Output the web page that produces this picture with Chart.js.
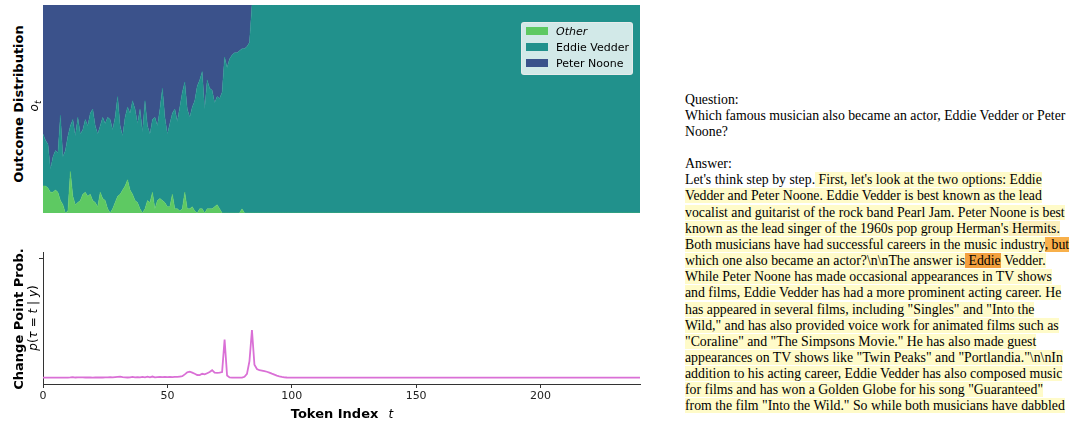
<!DOCTYPE html>
<html>
<head>
<meta charset="utf-8">
<script src="https://cdn.jsdelivr.net/npm/chart.js@4.4.1/dist/chart.umd.min.js"></script>
<style>
  body { margin: 0; width: 1071px; height: 422px; overflow: hidden; position: relative; background: #fff; font-family: "DejaVu Sans", sans-serif; color: #000; }
  canvas { position: absolute; }
  #outcomeChart { left: 43px; top: 5px; }
  #changeChart { left: 0px; top: 240px; }
  .vlabel { position: absolute; white-space: nowrap; transform: translate(-50%, -50%) rotate(-90deg); }
  .bold { font-weight: bold; font-size: 13px; }
  .math { font-size: 12px; }
  #legend { position: absolute; left: 521px; top: 22px; width: 110px; height: 51px; background: rgba(255,255,255,0.8); border: 1px solid rgba(235,235,235,0.9); border-radius: 3px; font-size: 11px; }
  #legend .row { position: absolute; left: 4px; height: 16px; line-height: 16px; white-space: nowrap; }
  #legend .sw { display: inline-block; width: 22px; height: 8px; vertical-align: middle; margin-right: 8px; margin-top: -2px; }
  #xtitle { position: absolute; left: 342px; top: 412px; transform: translate(-50%, -50%); white-space: nowrap; }
  #answer { position: absolute; left: 685px; top: 91.5px; font-family: "Liberation Serif", serif; font-size: 13.8px; line-height: 16.15px; white-space: nowrap; }
  .hl { background: #fffbc9; }
  .hl2 { background: #fdf0bd; }
  .or1 { background: #f8b04a; }
  .or2 { background: #f3a03e; }
</style>
</head>
<body>
<canvas id="outcomeChart" width="597" height="208"></canvas>
<canvas id="changeChart" width="660" height="182"></canvas>

<div class="vlabel bold" style="left:18px; top:104px;">Outcome Distribution</div>
<div class="vlabel math" style="left:35px; top:106px;"><i>o</i><sub style="font-size:9px"><i>t</i></sub></div>
<div class="vlabel bold" style="left:18px; top:319px;">Change Point Prob.</div>
<div class="vlabel math" style="left:33px; top:318px;"><i>p</i>(<i>τ</i> = <i>t</i> | <i>y</i>)</div>
<div id="xtitle"><span class="bold">Token Index</span>&nbsp;&nbsp;<span class="math"><i>t</i></span></div>

<div id="legend">
  <div class="row" style="top:1px"><span class="sw" style="background:#5ec962"></span><i>Other</i></div>
  <div class="row" style="top:17px"><span class="sw" style="background:#21918c"></span>Eddie Vedder</div>
  <div class="row" style="top:33px"><span class="sw" style="background:#3b528b"></span>Peter Noone</div>
</div>

<div id="answer">
Question:<br>
Which famous musician also became an actor, Eddie Vedder or Peter<br>
Noone?<br>
<br>
Answer:<br>
Let's think step by step.<span class="hl"> First, let's look at the two options: Eddie</span><br>
<span class="hl">Vedder and Peter Noone. Eddie Vedder is best known as the lead</span><br>
<span class="hl">vocalist and guitarist of the rock band Pearl Jam. Peter Noone is best</span><br>
<span class="hl">known as the lead singer of the 1960s pop group Herman's</span><span class="hl2"> Hermits.</span><br>
<span class="hl">Both musicians have had successful careers in the music industry</span><span class="or1">, but</span><br>
<span class="hl">which one also became an actor?\n\nThe answer is</span><span class="or2"> Eddie</span><span class="hl"> Vedder.</span><br>
<span class="hl">While Peter Noone has made occasional appearances in TV shows</span><br>
<span class="hl">and films, Eddie Vedder has had a more prominent acting career. He</span><br>
<span class="hl">has appeared in several films, including "Singles" and "Into the</span><br>
<span class="hl">Wild," and has also provided voice work for animated films such as</span><br>
<span class="hl">"Coraline" and "The Simpsons Movie." He has also made guest</span><br>
<span class="hl">appearances on TV shows like "Twin Peaks" and "Portlandia."\n\nIn</span><br>
<span class="hl">addition to his acting career, Eddie Vedder has also composed music</span><br>
<span class="hl">for films and has won a Golden Globe for his song "Guaranteed"</span><br>
<span class="hl">from the film "Into the Wild." So while both musicians have dabbled</span>
</div>

<script>
// outcome distribution o_t per token (t = 0..240)
var otherProb = [
  0.13,0.13,0.12,0.10,0.10,0.11,0.10,0.06,0.04,0.00,
  0.01,0.20,0.08,0.04,0.05,0.06,0.09,0.10,0.08,0.09,
  0.06,0.05,0.03,0.10,0.07,0.06,0.02,0.00,0.02,0.05,
  0.08,0.09,0.11,0.13,0.16,0.11,0.09,0.06,0.05,0.02,
  0.00,0.02,0.06,0.05,0.10,0.02,0.06,0.07,0.06,0.05,
  0.03,0.03,0.09,0.02,0.02,0.01,0.02,0.10,0.02,0.02,
  0.03,0.01,0.00,0.02,0.02,0.00,0.02,0.02,0.02,0.03,
  0.04,0.02,0.00,0.00,0.00,0.00,0.00,0.00,0.00,0.00,
  0.02,0.00,0.00,0.00,0.00,
  0,0,0,0,0,0,0,0,0,0,0,0,0,0,0,0,0,0,0,0,0,0,0,0,0,0,
  0,0,0,0,0,0,0,0,0,0,0,0,0,0,0,0,0,0,0,0,0,0,0,0,0,0,
  0,0,0,0,0,0,0,0,0,0,0,0,0,0,0,0,0,0,0,0,0,0,0,0,0,0,
  0,0,0,0,0,0,0,0,0,0,0,0,0,0,0,0,0,0,0,0,0,0,0,0,0,0,
  0,0,0,0,0,0,0,0,0,0,0,0,0,0,0,0,0,0,0,0,0,0,0,0,0,0,
  0,0,0,0,0,0,0,0,0,0,0,0,0,0,0,0,0,0,0,0,0,0,0,0,0,0
];
var eddieProb = [
  0.25,0.22,0.21,0.11,0.17,0.19,0.19,0.41,0.23,0.30,
  0.36,0.22,0.37,0.33,0.41,0.32,0.31,0.35,0.34,0.39,
  0.44,0.37,0.35,0.32,0.39,0.37,0.44,0.45,0.38,0.41,
  0.48,0.33,0.26,0.33,0.35,0.37,0.45,0.44,0.38,0.48,
  0.39,0.52,0.36,0.33,0.35,0.44,0.36,0.43,0.54,0.41,
  0.35,0.40,0.39,0.48,0.42,0.50,0.56,0.53,0.48,0.44,
  0.48,0.53,0.61,0.62,0.66,0.50,0.62,0.58,0.57,0.50,
  0.52,0.53,0.58,0.75,0.70,0.74,0.76,0.77,0.77,0.78,
  0.77,0.79,0.80,0.82,1.00,
  1,1,1,1,1,1,1,1,1,1,1,1,1,1,1,1,1,1,1,1,1,1,1,1,1,1,
  1,1,1,1,1,1,1,1,1,1,1,1,1,1,1,1,1,1,1,1,1,1,1,1,1,1,
  1,1,1,1,1,1,1,1,1,1,1,1,1,1,1,1,1,1,1,1,1,1,1,1,1,1,
  1,1,1,1,1,1,1,1,1,1,1,1,1,1,1,1,1,1,1,1,1,1,1,1,1,1,
  1,1,1,1,1,1,1,1,1,1,1,1,1,1,1,1,1,1,1,1,1,1,1,1,1,1,
  1,1,1,1,1,1,1,1,1,1,1,1,1,1,1,1,1,1,1,1,1,1,1,1,1,1
];
var peterProb = [
  0.62,0.65,0.67,0.79,0.73,0.70,0.71,0.53,0.73,0.70,
  0.63,0.58,0.55,0.63,0.54,0.62,0.60,0.55,0.58,0.52,
  0.50,0.58,0.62,0.58,0.54,0.57,0.54,0.55,0.60,0.54,
  0.44,0.58,0.63,0.54,0.49,0.52,0.46,0.50,0.57,0.50,
  0.61,0.46,0.58,0.62,0.55,0.54,0.58,0.50,0.40,0.54,
  0.62,0.57,0.52,0.50,0.56,0.49,0.42,0.37,0.50,0.54,
  0.49,0.46,0.39,0.36,0.32,0.50,0.36,0.40,0.41,0.47,
  0.44,0.45,0.42,0.25,0.30,0.26,0.24,0.23,0.23,0.22,
  0.21,0.21,0.20,0.18,0.00,
  0,0,0,0,0,0,0,0,0,0,0,0,0,0,0,0,0,0,0,0,0,0,0,0,0,0,
  0,0,0,0,0,0,0,0,0,0,0,0,0,0,0,0,0,0,0,0,0,0,0,0,0,0,
  0,0,0,0,0,0,0,0,0,0,0,0,0,0,0,0,0,0,0,0,0,0,0,0,0,0,
  0,0,0,0,0,0,0,0,0,0,0,0,0,0,0,0,0,0,0,0,0,0,0,0,0,0,
  0,0,0,0,0,0,0,0,0,0,0,0,0,0,0,0,0,0,0,0,0,0,0,0,0,0,
  0,0,0,0,0,0,0,0,0,0,0,0,0,0,0,0,0,0,0,0,0,0,0,0,0,0
];

// change point probability p(tau = t | y)
var changeProb = [
  0.003,0.003,0.003,0.003,0.003,0.003,0.003,0.003,0.003,0.003,
  0.003,0.005,0.008,0.004,0.005,0.006,0.005,0.004,0.005,0.004,
  0.003,0.004,0.005,0.004,0.004,0.005,0.006,0.007,0.006,0.008,
  0.010,0.012,0.007,0.005,0.004,0.005,0.010,0.006,0.008,0.006,
  0.009,0.006,0.011,0.005,0.012,0.006,0.008,0.009,0.007,0.010,
  0.008,0.010,0.008,0.010,0.009,0.012,0.015,0.030,0.048,0.052,
  0.045,0.035,0.025,0.024,0.035,0.030,0.040,0.050,0.065,0.045,
  0.042,0.045,0.050,0.320,0.020,0.005,0.003,0.003,0.003,0.003,
  0.003,0.010,0.035,0.140,0.400,0.110,0.075,0.065,0.062,0.058,
  0.052,0.045,0.036,0.028,0.020,0.014,0.009,0.006,0.004,0.003,
  0.003,0.003,0.003,0.003,0.003,0.003,0.003,0.003,0.003,0.003,0.003,0.003,0.003,0.003,0.003,0.003,0.003,0.003,0.003,0.003,
  0.003,0.003,0.003,0.003,0.003,0.003,0.003,0.003,0.003,0.003,0.003,0.003,0.003,0.003,0.003,0.003,0.003,0.003,0.003,0.003,
  0.003,0.003,0.003,0.003,0.003,0.003,0.003,0.003,0.003,0.003,0.003,0.003,0.003,0.003,0.003,0.003,0.003,0.003,0.003,0.003,
  0.003,0.003,0.003,0.003,0.003,0.003,0.003,0.003,0.003,0.003,0.003,0.003,0.003,0.003,0.003,0.003,0.003,0.003,0.003,0.003,
  0.003,0.003,0.003,0.003,0.003,0.003,0.003,0.003,0.003,0.003,0.003,0.003,0.003,0.003,0.003,0.003,0.003,0.003,0.003,0.003,
  0.003,0.003,0.003,0.003,0.003,0.003,0.003,0.003,0.003,0.003,0.003,0.003,0.003,0.003,0.003,0.003,0.003,0.003,0.003,0.003,
  0.003,0.003,0.003,0.003,0.003,0.003,0.003,0.003,0.003,0.003,0.003,0.003,0.003,0.003,0.003,0.003,0.003,0.003,0.003,0.003,
  0.003
];

var tokenIndex = changeProb.map(function (v, i) { return i; });
var xTicks = [0, 50, 100, 150, 200];
var yTicks = [1];

Chart.defaults.font.family = 'DejaVu Sans';
Chart.defaults.animation = false;

var ctx = document.getElementById('outcomeChart').getContext('2d');

var outcomeChart = new Chart(ctx, {
    type: 'line',
    data: {
        labels: tokenIndex,
        datasets: [{
            label: 'Other',
            data: otherProb,
            backgroundColor: '#5ec962',
            borderColor: '#5ec962',
            borderWidth: 0.5,
            fill: 'origin'
        }, {
            label: 'Eddie Vedder',
            data: eddieProb,
            backgroundColor: '#21918c',
            borderColor: '#21918c',
            borderWidth: 0.5,
            fill: '-1'
        }, {
            label: 'Peter Noone',
            data: peterProb,
            backgroundColor: '#3b528b',
            borderColor: '#3b528b',
            borderWidth: 0.5,
            fill: '-1'
        }]
    },
    options: {
        responsive: false,
        layout: { padding: 0 },
        elements: { point: { radius: 0 }, line: { tension: 0 } },
        plugins: { legend: { display: false }, tooltip: { enabled: false } },
        scales: {
            x: { type: 'linear', min: 0, max: 240, display: false },
            y: { stacked: true, min: 0, max: 1, display: false }
        }
    }
});

var ctx2 = document.getElementById('changeChart').getContext('2d');

var changeChart = new Chart(ctx2, {
    type: 'line',
    data: {
        labels: tokenIndex,
        datasets: [{
            label: 'p(τ = t | y)',
            data: changeProb,
            borderColor: '#da70d6',
            borderWidth: 1.8,
            pointRadius: 0,
            fill: false
        }]
    },
    options: {
        responsive: false,
        layout: { padding: { left: 0, right: 20, top: 12, bottom: 0 } },
        plugins: { legend: { display: false }, tooltip: { enabled: false } },
        scales: {
            x: {
                type: 'linear', min: 0, max: 240,
                afterBuildTicks: function (s) { s.ticks = xTicks.map(function (v) { return { value: v }; }); },
                afterFit: function (s) { s.height = 38; },
                grid: { drawOnChartArea: false, drawTicks: true, tickLength: 4, color: '#333' },
                border: { display: true, color: '#333', width: 1 },
                ticks: { font: { size: 11 }, color: '#222', padding: 2, maxRotation: 0 }
            },
            y: {
                min: -0.05, max: 1.05,
                afterBuildTicks: function (s) { s.ticks = yTicks.map(function (v) { return { value: v }; }); },
                afterFit: function (s) { s.width = 43; },
                grid: { drawOnChartArea: false, drawTicks: true, tickLength: 4, color: '#333' },
                border: { display: true, color: '#333', width: 1 },
                ticks: { callback: function () { return ''; } }
            }
        }
    }
});
</script>
</body>
</html>
